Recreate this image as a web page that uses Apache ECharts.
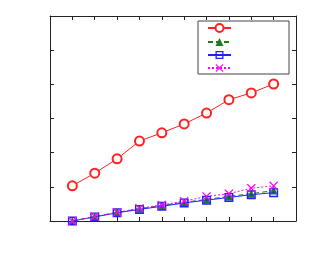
<!DOCTYPE html>
<html><head><meta charset="utf-8">
<script src="https://cdn.jsdelivr.net/npm/echarts@6/dist/echarts.min.js"></script>
<style>html,body{margin:0;padding:0;background:#fff}#c{width:313px;height:263px}</style>
</head><body><div id="c"></div>
<script>
var xValues = [1, 2, 3, 4, 5, 6, 7, 8, 9, 10];
var redValues = [1.03, 1.40, 1.82, 2.34, 2.58, 2.84, 3.16, 3.55, 3.75, 4.01];
var greenValues = [0, 0.13, 0.25, 0.36, 0.45, 0.55, 0.63, 0.72, 0.80, 0.89];
var blueValues = [0, 0.12, 0.24, 0.34, 0.43, 0.53, 0.61, 0.69, 0.77, 0.83];
var magentaValues = [0, 0.13, 0.25, 0.37, 0.47, 0.58, 0.72, 0.80, 0.96, 1.03];
var seriesNames = ['s1', 's2', 's3', 's4'];

function pairs(v) { return xValues.map(function (x, i) { return [x, v[i]]; }); }

var squareDot = 'path://M0,0L10,0L10,10L0,10Z M1.6,1.6L1.6,8.4L8.4,8.4L8.4,1.6Z M4,4L6,4L6,6L4,6Z';
var cross = 'path://M0,1L1,0L5,4L9,0L10,1L6,5L10,9L9,10L5,6L1,10L0,9L4,5Z';
var axisColor = '#222';

function axisCommon(pos, min, max, interval) {
  return {
    type: 'value', position: pos, min: min, max: max, interval: interval,
    axisLine: { show: true, onZero: false, lineStyle: { color: axisColor, width: 1 } },
    axisTick: { show: true, inside: true, length: 4, lineStyle: { color: axisColor } },
    axisLabel: { show: false }, splitLine: { show: false }
  };
}

var chart = echarts.init(document.getElementById('c'));
chart.setOption({
  animation: false,
  grid: { left: 50, top: 16, right: 17, bottom: 42 },
  xAxis: [axisCommon('bottom', 0, 11, 1), axisCommon('top', 0, 11, 1)],
  yAxis: [axisCommon('left', 0, 6, 1), axisCommon('right', 0, 6, 1)],
  legend: {
    left: 198, top: 21, orient: 'vertical',
    itemWidth: 23, itemHeight: 10, itemGap: 4,
    padding: [2, 57, 2, 9],
    borderColor: '#444', borderWidth: 1,
    formatter: function () { return ''; },
    data: seriesNames
  },
  series: [
    { name: seriesNames[0], type: 'line', data: pairs(redValues), symbol: 'emptyCircle', symbolSize: 9,
      lineStyle: { color: '#ff2020', width: 1 }, itemStyle: { color: '#ff2020', borderColor: '#ff2020', borderWidth: 1 } },
    { name: seriesNames[1], type: 'line', data: pairs(greenValues), symbol: 'triangle', symbolSize: 8,
      lineStyle: { color: '#1e7a1e', width: 1, type: [5, 3] }, itemStyle: { color: '#1e7a1e' } },
    { name: seriesNames[2], type: 'line', data: pairs(blueValues), symbol: squareDot, symbolSize: 9,
      lineStyle: { color: '#2020ff', width: 1 }, itemStyle: { color: '#2020ff' } },
    { name: seriesNames[3], type: 'line', data: pairs(magentaValues), symbol: cross, symbolSize: 9,
      lineStyle: { color: '#ff00ff', width: 1, type: [2, 2] }, itemStyle: { color: '#ff00ff' } }
  ]
});
</script></body></html>
